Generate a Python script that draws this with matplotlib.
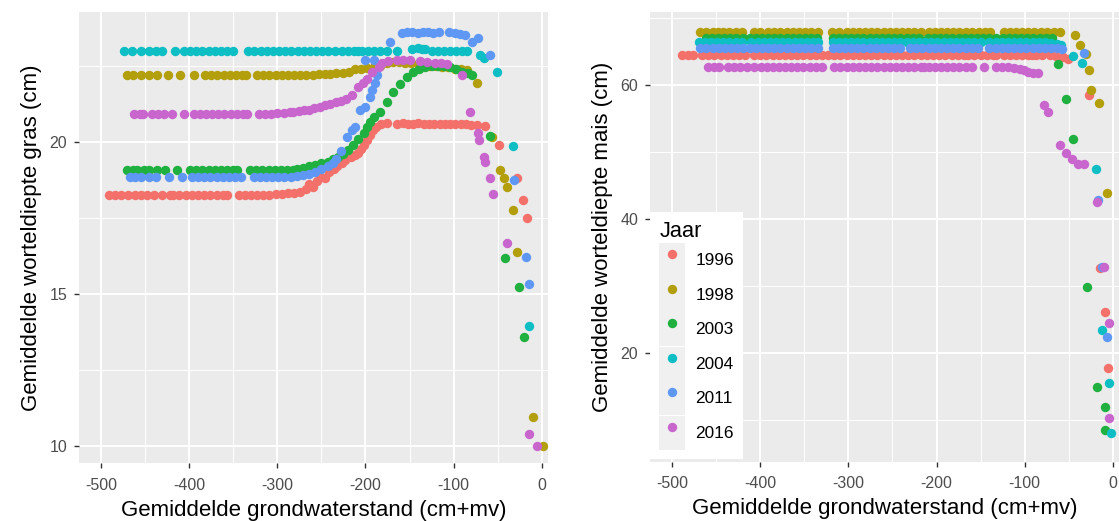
import matplotlib
matplotlib.use("Agg")
import matplotlib.pyplot as plt
from matplotlib.ticker import MultipleLocator
from matplotlib.patches import Rectangle
from matplotlib.lines import Line2D

plt.rcParams['font.family'] = ['Liberation Sans', 'DejaVu Sans']
plt.rcParams['axes.unicode_minus'] = False

years = ["1996", "1998", "2003", "2004", "2011", "2016"]
year_colors = ["#F3716A", "#B39E0C", "#1FB040", "#0DBEC4", "#5F98F4", "#C866CE"]

# gras: (grondwaterstand, worteldiepte) per jaar
gras_1996 = [
    (-491, 18.25), (-484, 18.25), (-477, 18.25), (-469, 18.25), (-462, 18.25),
    (-455, 18.25), (-448, 18.25), (-440, 18.25), (-431, 18.25), (-422, 18.25),
    (-418, 18.25), (-411, 18.25), (-404, 18.25), (-397, 18.25), (-390, 18.25),
    (-383, 18.25), (-376, 18.25), (-369, 18.25), (-362, 18.25), (-357, 18.25),
    (-344, 18.25), (-337, 18.25), (-330, 18.25), (-323, 18.25), (-316, 18.25),
    (-309, 18.25), (-302, 18.27), (-295, 18.27), (-288, 18.3), (-281, 18.3),
    (-274, 18.35), (-268, 18.45), (-264, 18.6), (-259, 18.5), (-255, 18.7),
    (-251, 18.85), (-246, 18.8), (-241, 19.0), (-236, 19.1), (-232, 19.2),
    (-227, 19.3), (-223, 19.4), (-217, 19.5), (-212, 19.55), (-208, 19.62),
    (-205, 19.75), (-202, 19.89), (-198, 20.05), (-195, 20.22), (-191, 20.38),
    (-188, 20.5), (-182, 20.6), (-176, 20.62), (-164, 20.6), (-158, 20.62),
    (-152, 20.6), (-146, 20.6), (-140, 20.62), (-134, 20.6), (-128, 20.6),
    (-122, 20.6), (-116, 20.6), (-110, 20.58), (-104, 20.6), (-98, 20.58),
    (-92, 20.6), (-86, 20.58), (-80, 20.55), (-74, 20.55), (-64, 20.52),
    (-49, 19.89), (-28, 18.8), (-21, 18.1), (-17, 17.5),
]
gras_1998 = [
    (-470, 22.2), (-464, 22.2), (-455, 22.2), (-446, 22.2), (-437, 22.2),
    (-424, 22.2), (-410, 22.2), (-395, 22.2), (-382, 22.2), (-375, 22.2),
    (-368, 22.2), (-361, 22.2), (-354, 22.2), (-347, 22.2), (-340, 22.2),
    (-336, 22.2), (-323, 22.2), (-316, 22.2), (-309, 22.2), (-302, 22.2),
    (-295, 22.2), (-288, 22.2), (-281, 22.2), (-274, 22.2), (-267, 22.2),
    (-260, 22.2), (-253, 22.22), (-246, 22.22), (-240, 22.22), (-233, 22.25),
    (-226, 22.28), (-219, 22.3), (-212, 22.38), (-205, 22.41), (-198, 22.42),
    (-190, 22.45), (-183, 22.5), (-176, 22.58), (-169, 22.63), (-162, 22.63),
    (-155, 22.6), (-148, 22.58), (-141, 22.55), (-134, 22.55), (-127, 22.5),
    (-120, 22.5), (-113, 22.45), (-106, 22.45), (-99, 22.4), (-92, 22.4),
    (-85, 22.35), (-73, 21.93), (-57, 20.16), (-47, 19.07), (-43, 18.8),
    (-40, 18.52), (-33, 17.75), (-28, 16.38), (-10, 10.95), (1, 9.99),
]
gras_2003 = [
    (-471, 19.07), (-464, 19.07), (-459, 19.07), (-451, 19.07), (-446, 19.07),
    (-437, 19.07), (-427, 19.07), (-414, 19.07), (-399, 19.07), (-392, 19.07),
    (-385, 19.07), (-378, 19.07), (-371, 19.07), (-364, 19.07), (-357, 19.07),
    (-350, 19.07), (-346, 19.07), (-331, 19.07), (-324, 19.07), (-317, 19.07),
    (-310, 19.07), (-303, 19.07), (-296, 19.07), (-289, 19.08), (-282, 19.08),
    (-278, 19.1), (-271, 19.15), (-264, 19.2), (-257, 19.25), (-250, 19.3),
    (-243, 19.35), (-237, 19.42), (-231, 19.5), (-225, 19.6), (-220, 19.72),
    (-214, 19.9), (-208, 20.1), (-202, 20.28), (-198, 20.49), (-195, 20.66),
    (-190, 20.8), (-183, 20.99), (-176, 21.3), (-169, 21.64), (-161, 21.9),
    (-153, 22.14), (-146, 22.3), (-139, 22.4), (-132, 22.45), (-125, 22.48),
    (-118, 22.5), (-111, 22.5), (-104, 22.45), (-97, 22.4), (-90, 22.3),
    (-84, 22.25), (-79, 22.19), (-59, 20.2), (-42, 16.17), (-26, 15.23),
    (-20, 13.59),
]
gras_2004 = [
    (-474, 23.0), (-465, 23.0), (-455, 23.0), (-446, 23.0), (-438, 23.0),
    (-431, 23.0), (-416, 23.0), (-406, 23.0), (-399, 23.0), (-392, 23.0),
    (-385, 23.0), (-378, 23.0), (-371, 23.0), (-364, 23.0), (-357, 23.0),
    (-350, 23.0), (-333, 23.0), (-326, 23.0), (-319, 23.0), (-312, 23.0),
    (-305, 23.0), (-298, 23.0), (-291, 23.0), (-284, 23.0), (-277, 23.0),
    (-270, 23.0), (-263, 23.0), (-256, 23.0), (-249, 23.0), (-242, 23.0),
    (-235, 23.0), (-227, 23.0), (-220, 23.0), (-213, 23.0), (-208, 23.0),
    (-204, 23.0), (-197, 23.0), (-190, 23.0), (-183, 23.0), (-176, 23.0),
    (-164, 23.0), (-147, 23.05), (-140, 23.1), (-136, 23.05), (-132, 23.05),
    (-125, 23.0), (-118, 23.0), (-111, 22.98), (-104, 23.0), (-97, 23.0),
    (-90, 22.98), (-85, 23.0), (-70, 22.85), (-66, 22.75), (-51, 22.3),
    (-33, 19.86), (-15, 13.94),
]
gras_2011 = [
    (-467, 18.85), (-461, 18.85), (-455, 18.85), (-446, 18.85), (-438, 18.85),
    (-423, 18.85), (-408, 18.85), (-397, 18.85), (-390, 18.85), (-383, 18.85),
    (-376, 18.85), (-369, 18.85), (-362, 18.85), (-355, 18.85), (-348, 18.85),
    (-341, 18.85), (-327, 18.85), (-320, 18.85), (-313, 18.85), (-306, 18.85),
    (-299, 18.85), (-292, 18.85), (-285, 18.85), (-278, 18.87), (-271, 18.9),
    (-264, 18.95), (-257, 19.0), (-250, 19.1), (-243, 19.2), (-237, 19.3),
    (-234, 19.45), (-228, 19.7), (-221, 20.16), (-215, 20.38), (-212, 20.5),
    (-206, 21.04), (-200, 21.15), (-195, 21.48), (-193, 21.7), (-189, 21.92),
    (-187, 22.19), (-200, 22.69), (-190, 22.7), (-172, 23.29), (-159, 23.59),
    (-153, 23.6), (-147, 23.6), (-141, 23.59), (-135, 23.6), (-129, 23.6),
    (-123, 23.59), (-117, 23.6), (-105, 23.6), (-99, 23.59), (-93, 23.55),
    (-87, 23.5), (-79, 23.29), (-72, 23.4), (-59, 22.85), (-32, 18.74),
    (-18, 16.2), (-14, 15.32),
]
gras_2016 = [
    (-463, 20.93), (-456, 20.93), (-452, 20.93), (-442, 20.93), (-435, 20.93),
    (-429, 20.93), (-419, 20.93), (-406, 20.93), (-395, 20.93), (-388, 20.93),
    (-381, 20.93), (-374, 20.93), (-367, 20.93), (-360, 20.93), (-353, 20.93),
    (-346, 20.93), (-339, 20.93), (-334, 20.93), (-321, 20.93), (-314, 20.93),
    (-307, 20.93), (-300, 20.95), (-293, 20.95), (-286, 20.97), (-282, 20.98),
    (-276, 21.0), (-270, 21.03), (-264, 21.06), (-258, 21.1), (-252, 21.15),
    (-246, 21.2), (-240, 21.26), (-234, 21.3), (-228, 21.35), (-222, 21.42),
    (-215, 21.54), (-208, 21.81), (-203, 21.95), (-198, 22.08), (-193, 22.3),
    (-185, 22.47), (-181, 22.58), (-175, 22.65), (-164, 22.7), (-157, 22.69),
    (-150, 22.68), (-138, 22.65), (-130, 22.62), (-121, 22.6), (-114, 22.6),
    (-108, 22.55), (-91, 22.19), (-81, 20.99), (-72, 20.28), (-71, 20.06),
    (-66, 19.51), (-65, 19.35), (-59, 18.8), (-55, 18.28), (-39, 16.66),
    (-15, 10.38), (-6, 10.0),
]

# mais: (grondwaterstand, worteldiepte) per jaar
mais_1996 = [
    (-489, 64.6), (-482, 64.6), (-476, 64.6), (-466, 64.6), (-459, 64.6),
    (-452, 64.6), (-445, 64.6), (-438, 64.6), (-431, 64.6), (-424, 64.6),
    (-417, 64.6), (-407, 64.6), (-400, 64.6), (-393, 64.6), (-386, 64.6),
    (-379, 64.6), (-372, 64.6), (-365, 64.6), (-358, 64.6), (-351, 64.6),
    (-344, 64.6), (-337, 64.6), (-330, 64.6), (-323, 64.6), (-316, 64.6),
    (-309, 64.6), (-302, 64.6), (-295, 64.6), (-288, 64.6), (-281, 64.6),
    (-274, 64.6), (-267, 64.6), (-260, 64.6), (-253, 64.6), (-246, 64.6),
    (-239, 64.6), (-232, 64.6), (-225, 64.6), (-218, 64.6), (-211, 64.6),
    (-204, 64.6), (-197, 64.6), (-190, 64.6), (-183, 64.6), (-176, 64.6),
    (-169, 64.6), (-164, 64.6), (-157, 64.6), (-150, 64.6), (-143, 64.6),
    (-136, 64.6), (-132, 64.6), (-124, 64.6), (-117, 64.6), (-110, 64.6),
    (-103, 64.6), (-96, 64.6), (-92, 64.6), (-87, 64.6), (-80, 64.6),
    (-71, 64.5), (-64, 64.4), (-57, 64.2), (-51, 64.0),
    (-27, 58.5), (-15, 32.6), (-9, 26.1), (-6, 17.65),
]
mais_1998 = [
    (-468, 68.0), (-461, 68.0), (-454, 68.0), (-448, 68.0), (-442, 68.0),
    (-435, 68.0), (-428, 68.0), (-421, 68.0), (-407, 68.0), (-400, 68.0),
    (-391, 68.0), (-384, 68.0), (-377, 68.0), (-370, 68.0), (-363, 68.0),
    (-356, 68.0), (-349, 68.0), (-342, 68.0), (-335, 68.0), (-319, 68.0),
    (-311, 68.0), (-302, 68.0), (-295, 68.0), (-288, 68.0), (-281, 68.0),
    (-274, 68.0), (-267, 68.0), (-260, 68.0), (-253, 68.0), (-246, 68.0),
    (-239, 68.0), (-232, 68.0), (-225, 68.0), (-218, 68.0), (-209, 68.0),
    (-202, 68.0), (-195, 68.0), (-188, 68.0), (-181, 68.0), (-174, 68.0),
    (-167, 68.0), (-160, 68.0), (-152, 68.0), (-145, 68.0), (-139, 68.0),
    (-124, 68.0), (-117, 68.0), (-110, 68.0), (-103, 68.0), (-96, 68.0),
    (-89, 68.0), (-82, 68.0), (-75, 68.0), (-67, 68.0), (-60, 68.0),
    (-43, 67.5), (-37, 66.0), (-31, 64.7), (-27, 62.3), (-25, 59.25),
    (-16, 57.3), (-7, 43.9),
]
mais_2003 = [
    (-462, 67.0), (-455, 67.0), (-448, 67.0), (-441, 67.0), (-434, 67.0),
    (-427, 67.0), (-420, 67.0), (-412, 67.0), (-405, 67.0), (-398, 67.0),
    (-391, 67.0), (-384, 67.0), (-377, 67.0), (-370, 67.0), (-363, 67.0),
    (-356, 67.0), (-349, 67.0), (-342, 67.0), (-336, 67.0), (-318, 67.0),
    (-311, 67.0), (-304, 67.0), (-297, 67.0), (-290, 67.0), (-283, 67.0),
    (-276, 67.0), (-269, 67.0), (-262, 67.0), (-255, 67.0), (-248, 67.0),
    (-241, 67.0), (-234, 67.0), (-227, 67.0), (-220, 67.0), (-210, 67.0),
    (-203, 67.0), (-196, 67.0), (-189, 67.0), (-182, 67.0), (-175, 67.0),
    (-168, 67.0), (-161, 67.0), (-154, 67.0), (-147, 67.0), (-140, 67.0),
    (-132, 67.0), (-125, 67.0), (-118, 67.0), (-111, 67.0), (-104, 67.0),
    (-97, 67.0), (-90, 67.0), (-83, 67.0), (-76, 67.0), (-69, 67.0),
    (-62, 63.2), (-53, 58.0), (-45, 52.0), (-29, 29.9), (-18, 14.9),
    (-9, 11.9), (-9, 8.4),
]
mais_2004 = [
    (-470, 66.4), (-463, 66.4), (-456, 66.4), (-449, 66.4), (-442, 66.4),
    (-435, 66.4), (-428, 66.4), (-421, 66.4), (-410, 66.4), (-403, 66.4),
    (-396, 66.4), (-389, 66.4), (-382, 66.4), (-375, 66.4), (-368, 66.4),
    (-361, 66.4), (-354, 66.4), (-347, 66.4), (-340, 66.4), (-335, 66.4),
    (-318, 66.4), (-311, 66.4), (-304, 66.4), (-297, 66.4), (-290, 66.4),
    (-283, 66.4), (-276, 66.4), (-269, 66.4), (-262, 66.4), (-255, 66.4),
    (-248, 66.4), (-241, 66.4), (-234, 66.4), (-227, 66.4), (-220, 66.4),
    (-213, 66.4), (-206, 66.4), (-199, 66.4), (-192, 66.4), (-185, 66.4),
    (-178, 66.4), (-171, 66.4), (-164, 66.4), (-157, 66.4), (-150, 66.4),
    (-140, 66.4), (-133, 66.4), (-126, 66.4), (-119, 66.4), (-112, 66.4),
    (-105, 66.4), (-98, 66.4), (-91, 66.4), (-84, 66.4), (-77, 66.4),
    (-70, 66.3), (-63, 66.2), (-59, 66.0),
    (-45, 64.4), (-35, 63.3), (-19, 47.5), (-12, 23.4), (-4, 15.4), (-2, 8.0),
]
mais_2011 = [
    (-468, 65.5), (-461, 65.5), (-454, 65.5), (-447, 65.5), (-440, 65.5),
    (-433, 65.5), (-426, 65.5), (-420, 65.5), (-412, 65.5), (-405, 65.5),
    (-398, 65.5), (-391, 65.5), (-384, 65.5), (-377, 65.5), (-370, 65.5),
    (-363, 65.5), (-356, 65.5), (-349, 65.5), (-342, 65.5), (-335, 65.5),
    (-318, 65.5), (-311, 65.5), (-304, 65.5), (-297, 65.5), (-290, 65.5),
    (-283, 65.5), (-276, 65.5), (-269, 65.5), (-262, 65.5), (-255, 65.5),
    (-248, 65.5), (-241, 65.5), (-230, 65.5), (-223, 65.5), (-216, 65.5),
    (-209, 65.5), (-202, 65.5), (-195, 65.5), (-188, 65.5), (-181, 65.5),
    (-174, 65.5), (-167, 65.5), (-160, 65.5), (-153, 65.5), (-140, 65.5),
    (-133, 65.5), (-126, 65.5), (-119, 65.5), (-112, 65.5), (-105, 65.5),
    (-98, 65.5), (-91, 65.5), (-84, 65.5), (-77, 65.5), (-70, 65.5),
    (-63, 65.5), (-58, 65.4),
    (-33, 64.8), (-17, 42.8), (-12, 32.8), (-7, 22.3),
]
mais_2016 = [
    (-459, 62.7), (-452, 62.7), (-447, 62.7), (-437, 62.7), (-430, 62.7),
    (-423, 62.7), (-415, 62.7), (-407, 62.7), (-399, 62.7), (-392, 62.7),
    (-386, 62.7), (-379, 62.7), (-372, 62.7), (-365, 62.7), (-358, 62.7),
    (-351, 62.7), (-344, 62.7), (-337, 62.7), (-330, 62.7), (-316, 62.7),
    (-309, 62.7), (-302, 62.7), (-295, 62.7), (-288, 62.7), (-281, 62.7),
    (-274, 62.7), (-267, 62.7), (-260, 62.7), (-253, 62.7), (-246, 62.7),
    (-239, 62.7), (-232, 62.7), (-225, 62.7), (-218, 62.7), (-214, 62.7),
    (-209, 62.7), (-202, 62.7), (-195, 62.7), (-188, 62.7), (-181, 62.7),
    (-174, 62.7), (-167, 62.7), (-160, 62.7), (-146, 62.7), (-133, 62.7),
    (-126, 62.7), (-119, 62.7), (-112, 62.6), (-105, 62.4), (-101, 62.3),
    (-96, 62.0), (-90, 61.8), (-85, 61.8),
    (-78, 57.0), (-74, 56.0), (-60, 51.0), (-53, 49.8), (-46, 49.0),
    (-40, 48.3), (-33, 48.2), (-18, 42.6), (-10, 32.8), (-4, 24.5), (-4, 10.3),
]

gras_series = [gras_1996, gras_1998, gras_2003, gras_2004, gras_2011, gras_2016]
mais_series = [mais_1996, mais_1998, mais_2003, mais_2004, mais_2011, mais_2016]

POINT_SIZE = 46


def style_panel(ax, ylabel, ystep):
    # ggplot-achtige grijze achtergrond met witte rasterlijnen
    ax.set_facecolor("#EBEBEB")
    for spine in ax.spines.values():
        spine.set_visible(False)
    ax.xaxis.set_major_locator(MultipleLocator(100))
    ax.xaxis.set_minor_locator(MultipleLocator(50))
    ax.yaxis.set_major_locator(MultipleLocator(ystep))
    ax.yaxis.set_minor_locator(MultipleLocator(ystep / 2))
    ax.grid(which="major", color="white", linewidth=1.4)
    ax.grid(which="minor", color="white", linewidth=0.7)
    ax.set_axisbelow(True)
    ax.tick_params(which="major", length=3.6, width=1.0, color="#333333",
                   labelsize=11.5, labelcolor="#4D4D4D")
    ax.tick_params(axis="x", which="major", pad=7)
    ax.tick_params(axis="y", which="major", pad=5)
    ax.tick_params(which="minor", length=0)
    ax.set_xlabel("Gemiddelde grondwaterstand (cm+mv)", fontsize=16, labelpad=5)
    ax.set_ylabel(ylabel, fontsize=16, labelpad=5)


def add_points(ax, series_list):
    for color, pts in zip(year_colors, series_list):
        xs = [p[0] for p in pts]
        ys = [p[1] for p in pts]
        ax.scatter(xs, ys, s=POINT_SIZE, color=color, linewidths=0)


fig = plt.figure(figsize=(11.19, 5.21), dpi=100)
ax_gras = fig.add_axes([0.0706, 0.1113, 0.4191, 0.8662])
ax_mais = fig.add_axes([0.5809, 0.1138, 0.4191, 0.8637])

add_points(ax_gras, gras_series)
style_panel(ax_gras, "Gemiddelde worteldiepte gras (cm)", 5)
ax_gras.set_xlim(-525, 7)
ax_gras.set_ylim(9.43, 24.28)

add_points(ax_mais, mais_series)
style_panel(ax_mais, "Gemiddelde worteldiepte mais (cm)", 20)
ax_mais.set_xlim(-525, 7)
ax_mais.set_ylim(3.7, 71.0)

# legenda met grijze sleutelvakjes zoals in ggplot
handles = []
for color in year_colors:
    key_bg = Rectangle((0, 0), 1, 1, facecolor="#F0F0F0", edgecolor="none")
    key_pt = Line2D([], [], marker="o", linestyle="", markersize=POINT_SIZE ** 0.5,
                    markerfacecolor=color, markeredgewidth=0)
    handles.append((key_bg, key_pt))

leg = ax_mais.legend(handles, years, loc="upper left",
                     bbox_to_anchor=(650 / 1119, 1 - 212 / 521),
                     bbox_transform=fig.transFigure, title="Jaar", fontsize=12.4,
                     title_fontsize=15.7, alignment="left", frameon=True,
                     fancybox=False, facecolor="white", edgecolor="none",
                     framealpha=1, borderpad=0.55, handlelength=1.5,
                     handleheight=2.68, handletextpad=0.58, labelspacing=0.02,
                     borderaxespad=0)

fig.savefig("out.png", dpi=100)
